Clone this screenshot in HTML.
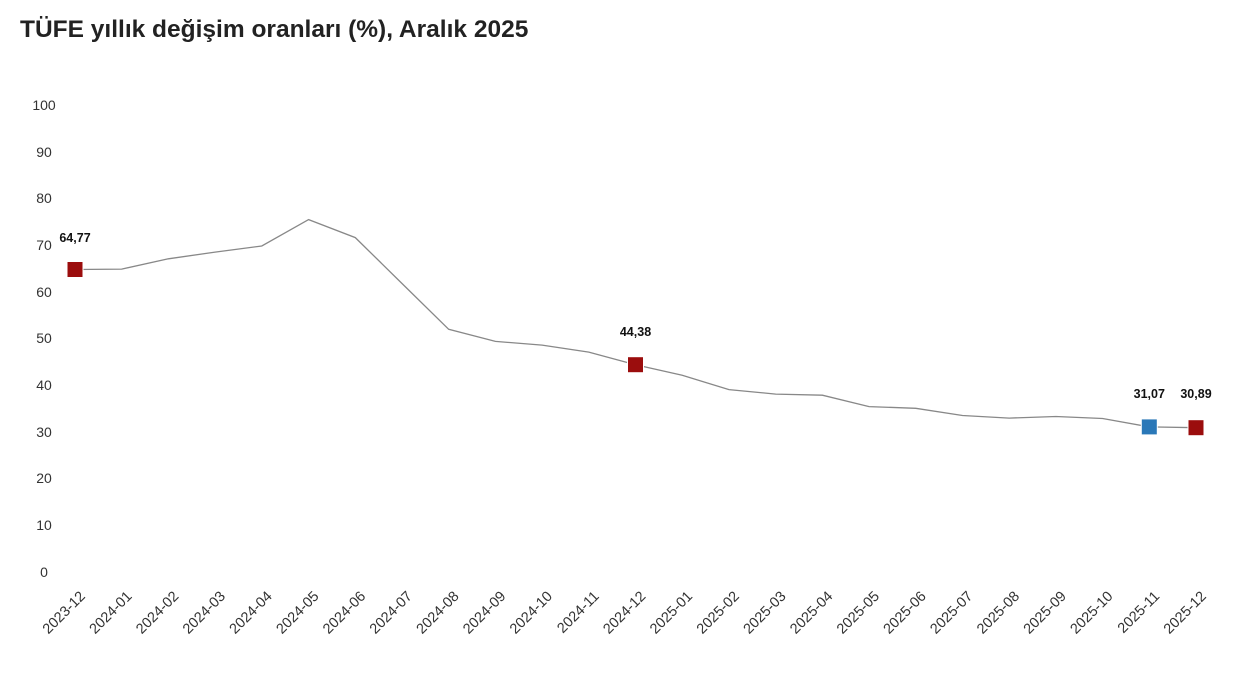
<!DOCTYPE html>
<html><head><meta charset="utf-8"><style>
html,body{margin:0;padding:0;background:#fff;}
svg{display:block;font-family:"Liberation Sans",Arial,sans-serif;}
</style></head><body>
<svg width="1240" height="675" viewBox="0 0 1240 675">
<rect width="1240" height="675" fill="#fff"/>
<text x="20" y="37" font-size="24.5" font-weight="bold" fill="#222">TÜFE yıllık değişim oranları (%), Aralık 2025</text>
<g font-size="14" fill="#333" text-anchor="middle">
<text x="44" y="110">100</text><text x="44" y="157">90</text><text x="44" y="203">80</text>
<text x="44" y="250">70</text><text x="44" y="297">60</text><text x="44" y="343">50</text>
<text x="44" y="390">40</text><text x="44" y="437">30</text><text x="44" y="483">20</text>
<text x="44" y="530">10</text><text x="44" y="577">0</text>
</g>
<polyline fill="none" stroke="#888" stroke-width="1.3" points="75,269.5 121.7,269.1 168.4,258.8 215.1,252.1 261.8,246 308.6,219.6 355.3,237.6 402,283.5 448.7,329.3 495.4,341.4 542.1,345.1 588.8,352.1 635.5,364.7 682.2,375.3 729,389.6 775.7,394.1 822.4,395.2 869.1,406.6 915.8,408.3 962.5,415.5 1009.2,418.1 1055.9,416.5 1102.6,418.5 1149.3,426.9 1196,427.7"/>
<g stroke="#fff" stroke-width="1">
<rect x="67" y="261.5" width="16" height="16" fill="#9b0d0d"/>
<rect x="627.5" y="356.7" width="16" height="16" fill="#9b0d0d"/>
<rect x="1141.3" y="418.9" width="16" height="16" fill="#2a78b8"/>
<rect x="1188" y="419.7" width="16" height="16" fill="#9b0d0d"/>
</g>
<g font-size="12.5" font-weight="bold" fill="#111" text-anchor="middle">
<text x="75" y="242">64,77</text>
<text x="635.5" y="336">44,38</text>
<text x="1149.3" y="398">31,07</text>
<text x="1196" y="398">30,89</text>
</g>
<g font-size="14.5" fill="#333" text-anchor="end">
<text transform="translate(86,597) rotate(-45)">2023-12</text>
<text transform="translate(132.7,597) rotate(-45)">2024-01</text>
<text transform="translate(179.4,597) rotate(-45)">2024-02</text>
<text transform="translate(226.1,597) rotate(-45)">2024-03</text>
<text transform="translate(272.8,597) rotate(-45)">2024-04</text>
<text transform="translate(319.6,597) rotate(-45)">2024-05</text>
<text transform="translate(366.3,597) rotate(-45)">2024-06</text>
<text transform="translate(413,597) rotate(-45)">2024-07</text>
<text transform="translate(459.7,597) rotate(-45)">2024-08</text>
<text transform="translate(506.4,597) rotate(-45)">2024-09</text>
<text transform="translate(553.1,597) rotate(-45)">2024-10</text>
<text transform="translate(599.8,597) rotate(-45)">2024-11</text>
<text transform="translate(646.5,597) rotate(-45)">2024-12</text>
<text transform="translate(693.2,597) rotate(-45)">2025-01</text>
<text transform="translate(740,597) rotate(-45)">2025-02</text>
<text transform="translate(786.7,597) rotate(-45)">2025-03</text>
<text transform="translate(833.4,597) rotate(-45)">2025-04</text>
<text transform="translate(880.1,597) rotate(-45)">2025-05</text>
<text transform="translate(926.8,597) rotate(-45)">2025-06</text>
<text transform="translate(973.5,597) rotate(-45)">2025-07</text>
<text transform="translate(1020.2,597) rotate(-45)">2025-08</text>
<text transform="translate(1066.9,597) rotate(-45)">2025-09</text>
<text transform="translate(1113.6,597) rotate(-45)">2025-10</text>
<text transform="translate(1160.3,597) rotate(-45)">2025-11</text>
<text transform="translate(1207,597) rotate(-45)">2025-12</text>
</g>
</svg>
</body></html>
